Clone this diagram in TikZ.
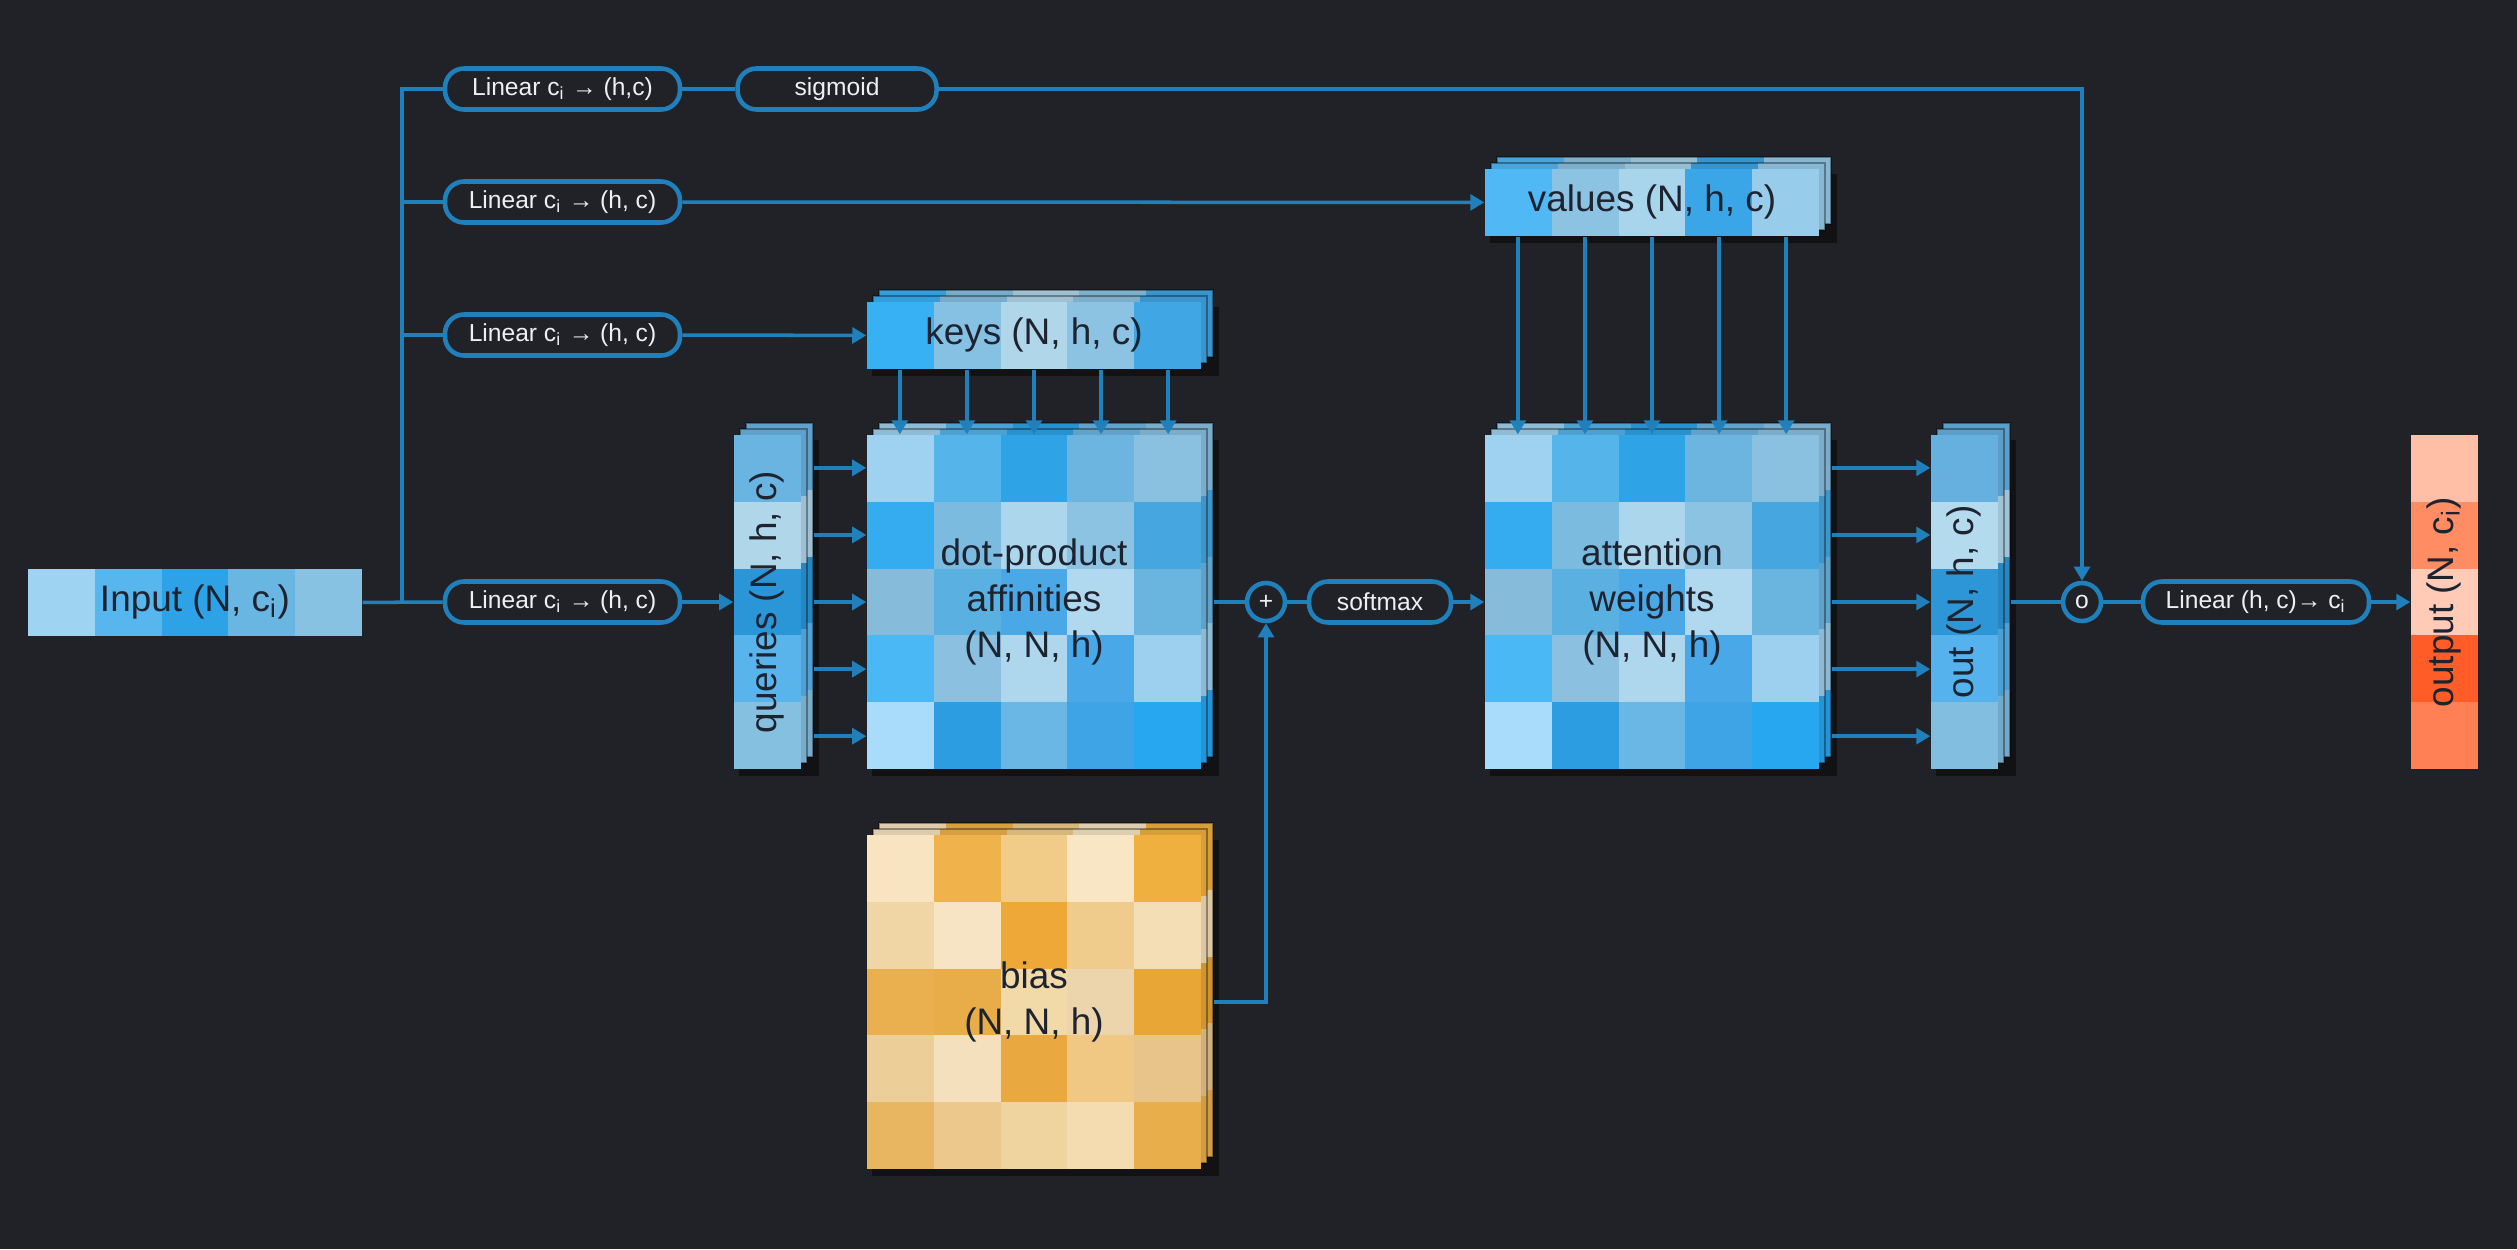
\documentclass[tikz,border=0pt]{standalone}
\usepackage{fontspec}
\setmainfont{Liberation Sans}
\usetikzlibrary{positioning, arrows.meta, calc}

\definecolor{canvas}{HTML}{212227}
\definecolor{flow}{HTML}{1F80BC}
\definecolor{ink}{HTML}{1E2330}
\definecolor{pilltext}{HTML}{EDEFF2}

% cell colours, one braced group per row
\def\inputcells{{9FD3F2,58B6EE,2EA2E6,6AB6E2,88C2E2}}
\def\querycells{{6AB4E2},{B0D6EA},{2A96D8},{5AB4EC},{86C0E0}}
\def\keycells{{38B0F4,86C0E2,B0D6EA,8CC2E2,40A6E4}}
\def\valuecells{{50B8F4,8CC2E2,A8D4EC,3AA6E8,98CCEB}}
\def\affcells{{9FD2F0,55B4EA,2EA3E6,6CB5E0,8AC0E0},{35ACF0,7BBBE0,ACD6EC,8CC3E3,46A7E0},{86BCD9,5AB0E0,4AA8E6,B0D8EE,6AB4E0},{4AB8F4,8CC0E0,AED6EC,48A8E8,9CD0EE},{A8DCFA,2C9DE0,6AB6E4,3EA4E6,27A7F0}}
\def\biascells{{F8E4C0,F0B24A,F0CC88,F8E6C4,F0B040},{F0D6A4,F6E4C4,EEA838,F0CC8C,F4DEB6},{EAB050,E8AC48,F2D9A8,ECD4AC,E8A636},{ECCE98,F4E0BC,EAA840,F0C884,E8C48A},{E8B660,ECC88C,F0D4A0,F4DCB0,E8AE4C}}
\def\outcells{{66B0E0},{B4DAEE},{2D96D6},{55B2EC},{82BEE0}}
\def\outputcells{{FFBFA6},{FF8C62},{FFCAB6},{FF5C28},{FF8055}}

% #1 top-left corner, #2 colour rows
\newcommand{\cellgrid}[2]{%
  \foreach \row [count=\r from 0] in #2 {
    \foreach \c [count=\k from 0] in \row {
      \definecolor{cellc}{HTML}{\c}
      \fill[cellc] ($#1+(0.668*\k,0.668*\r)$) rectangle ++(0.668,0.668);
    }
  }
}
% three stacked layers: #1 corner, #2 width, #3 height, #4 colour rows
\newcommand{\cellstack}[4]{%
  \fill[black, opacity=0.45] ($#1+(0.05,0.05)$) rectangle ($#1+(#2+0.18,#3+0.07)$);
  \foreach \s in {0.12,0.06} {
    \begin{scope}[shift={(\s,-\s)}]
      \cellgrid{#1}{#4}
      \fill[black, opacity=0.1] #1 rectangle ++(#2,#3);
      \draw[black, opacity=0.35, line width=0.5pt] #1 rectangle ++(#2,#3);
    \end{scope}
  }
  \cellgrid{#1}{#4}
}

\begin{document}
\begin{tikzpicture}[
        y=-1cm,
        every node/.style={
            align=center,
            inner sep=0pt
        },
        pill/.style={
            rectangle,
            draw=flow,
            fill=canvas,
            line width=1.3pt,
            rounded corners=1.9mm,
            minimum height=0.41cm,
            text=pilltext,
            font=\fontsize{7}{8}\selectfont
        },
        op/.style={
            circle,
            draw=flow,
            fill=canvas,
            line width=1.3pt,
            minimum size=0.38cm,
            text=pilltext,
            font=\fontsize{7}{8}\selectfont
        },
        tensor/.style={
            text=ink,
            font=\fontsize{10.5}{13}\selectfont
        },
        line/.style={
            draw=flow,
            line width=1pt
        },
        arrow/.style={
            line,
            -{Triangle[length=4pt,width=4.5pt]}
        }
    ]

    \fill[canvas] (0,0) rectangle (25.17,12.49);

    % tensors
    \cellgrid{(0.28,5.69)}{\inputcells}
    \cellstack{(7.34,4.35)}{0.668}{3.34}{\querycells}
    \cellstack{(8.67,3.02)}{3.34}{0.668}{\keycells}
    \cellstack{(8.67,4.35)}{3.34}{3.34}{\affcells}
    \cellstack{(8.67,8.35)}{3.34}{3.34}{\biascells}
    \cellstack{(14.85,1.69)}{3.34}{0.668}{\valuecells}
    \cellstack{(14.85,4.35)}{3.34}{3.34}{\affcells}
    \cellstack{(19.31,4.35)}{0.668}{3.34}{\outcells}
    \cellgrid{(24.11,4.35)}{\outputcells}

    \node[tensor, minimum width=3.34cm, minimum height=0.668cm] (input) at (1.95,6.024) {Input (N, c\textsubscript{i})};
    \node[tensor, minimum width=0.668cm, minimum height=3.34cm] (queries) at (7.674,6.02) {\rotatebox{90}{queries (N, h, c)}};
    \node[tensor, minimum width=3.34cm, minimum height=0.668cm] (keys) at (10.34,3.354) {keys (N, h, c)};
    \node[tensor, minimum width=3.34cm, minimum height=3.34cm] (aff) at (10.34,6.02) {dot-product\\affinities\\(N, N, h)};
    \node[tensor, minimum width=3.34cm, minimum height=3.34cm] (bias) at (10.34,10.02) {bias\\(N, N, h)};
    \node[tensor, minimum width=3.34cm, minimum height=0.668cm] (values) at (16.52,2.024) {values (N, h, c)};
    \node[tensor, minimum width=3.34cm, minimum height=3.34cm] (attn) at (16.52,6.02) {attention\\weights\\(N, N, h)};
    \node[tensor, minimum width=0.668cm, minimum height=3.34cm] (outv) at (19.644,6.02) {\rotatebox{90}{out (N, h, c)}};
    \node[tensor, minimum width=0.668cm, minimum height=3.34cm] (output) at (24.444,6.02) {\rotatebox{90}{output (N, c\textsubscript{i})}};

    % projections and operators
    \coordinate (split) at (4.02,6.02);
    \node[pill, minimum width=2.35cm] (lin1) at (5.625,0.89) {Linear c\textsubscript{i} → (h,c)};
    \node[pill, minimum width=2.35cm] (lin2) at (5.625,2.02) {Linear c\textsubscript{i} → (h, c)};
    \node[pill, minimum width=2.35cm] (lin3) at (5.625,3.35) {Linear c\textsubscript{i} → (h, c)};
    \node[pill, minimum width=2.35cm] (lin4) at (5.625,6.02) {Linear c\textsubscript{i} → (h, c)};
    \node[pill, minimum width=1.99cm, right=0.53cm of lin1] (gate) {sigmoid};
    \node[op] (plus) at (12.66,6.02) {+};
    \node[pill, minimum width=1.42cm] (softmax) at (13.80,6.02) {softmax};
    \node[op] (gating) at (20.82,6.02) {o};
    \node[pill, minimum width=2.26cm] (linout) at (22.56,6.02) {Linear (h, c)→ c\textsubscript{i}};

    % input fan-out
    \draw[line] (input.east) -- (lin4.west);
    \draw[line] (split) |- (lin1.west);
    \draw[line] (split) |- (lin2.west);
    \draw[line] (split) |- (lin3.west);
    \draw[line] (lin1.east) -- (gate.west);
    \draw[arrow] (gate.east) -| (gating.north);
    \draw[arrow] (lin2.east) -- (values.west);
    \draw[arrow] (lin3.east) -- (keys.west);
    \draw[arrow] (lin4.east) -- (queries.west);

    % per row / column links
    \foreach \k in {1,...,5} {
        \draw[arrow] ($(keys.south west)!{(\k-0.5)/5}!(keys.south east)$) -- ($(aff.north west)!{(\k-0.5)/5}!(aff.north east)$);
        \draw[arrow] ($(queries.north east)!{(\k-0.5)/5}!(queries.south east)+(0.12,0)$) -- ($(aff.north west)!{(\k-0.5)/5}!(aff.south west)$);
        \draw[arrow] ($(values.south west)!{(\k-0.5)/5}!(values.south east)$) -- ($(attn.north west)!{(\k-0.5)/5}!(attn.north east)$);
        \draw[arrow] ($(attn.north east)!{(\k-0.5)/5}!(attn.south east)+(0.12,0)$) -- ($(outv.north west)!{(\k-0.5)/5}!(outv.south west)$);
    }

    % attention path
    \draw[line] ($(aff.east)+(0.12,0)$) -- (plus.west);
    \draw[arrow] ($(bias.east)+(0.12,0)$) -| (plus.south);
    \draw[line] (plus.east) -- (softmax.west);
    \draw[arrow] (softmax.east) -- (attn.west);
    \draw[line] ($(outv.east)+(0.12,0)$) -- (gating.west);
    \draw[line] (gating.east) -- (linout.west);
    \draw[arrow] (linout.east) -- (output.west);

\end{tikzpicture}
\end{document}
